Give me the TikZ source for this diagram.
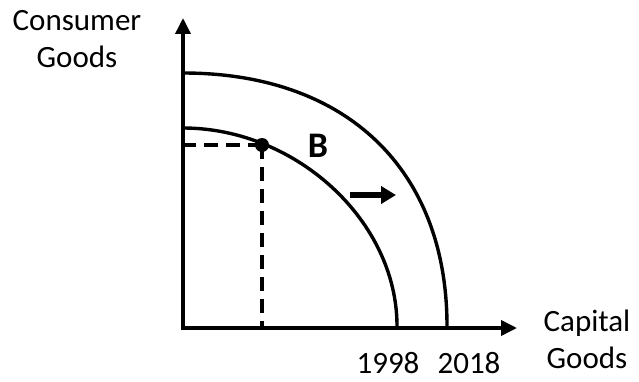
\documentclass[tikz,border=0pt]{standalone}
\usepackage{fontspec}
\setmainfont{Carlito}
\usetikzlibrary{positioning,arrows.meta}

\begin{document}
\begin{tikzpicture}[
  x=1pt, y=1pt,
  axis/.style={line width=3.6pt, line join=miter,
    {Triangle[length=16pt, width=15pt]}-{Triangle[length=16pt, width=15pt]}},
  ppf/.style={line width=3.4pt},
  guide/.style={line width=3.2pt, dash pattern=on 14pt off 8pt},
  lbl/.style={font=\fontsize{31}{37}\selectfont, align=center, inner sep=0pt},
  pt/.style={circle, fill, minimum size=14pt, inner sep=0pt},
  growth/.style={line width=6pt, -{Triangle[length=15pt, width=17pt]}}
]
\useasboundingbox (0,0) rectangle (639,381);

% axes
\coordinate (O) at (183,53);
\coordinate (ytip) at (183,363);
\coordinate (xtip) at (517,53);
\draw[axis] (ytip) -- (O) -- (xtip);

% frontiers
\coordinate (in0) at (183,253);
\coordinate (in1) at (397,55);
\coordinate (out0) at (183,308);
\coordinate (out1) at (447,55);
\draw[ppf] (in0) .. controls (296,253) and (397,160) .. (in1);
\draw[ppf] (out0) .. controls (347,308) and (447,211) .. (out1);

% point B
\node[pt] (dot) at (262,236) {};
\node[font=\bfseries\fontsize{36}{40}\selectfont, inner sep=0pt] (B) at (318,235) {B};
\draw[guide] (dot.center) -- (dot -| O);
\draw[guide] (dot.center) -- (dot |- O);

% shift
\coordinate (s0) at (350,186);
\coordinate (s1) at (396,186);
\draw[growth] (s0) -- (s1);

% labels
\node[lbl] (ylab) at (77,342) {Consumer\\Goods};
\node[lbl] (xlab) at (587,42) {Capital\\Goods};
\node[lbl, anchor=base] (y1998) at (388,8) {1998};
\node[lbl, anchor=base] (y2018) at (469,8) {2018};
\end{tikzpicture}
\end{document}
